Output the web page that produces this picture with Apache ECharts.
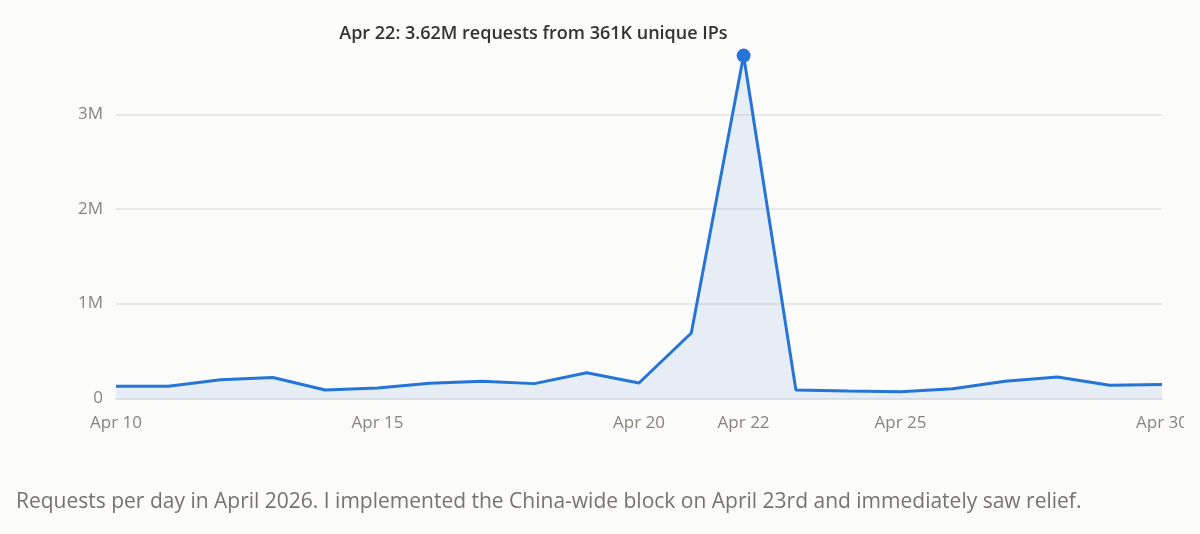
<!DOCTYPE html>
<html>
<head>
<meta charset="utf-8">
<script src="https://cdn.jsdelivr.net/npm/echarts@6/dist/echarts.min.js"></script>
<style>
  html, body { margin: 0; padding: 0; background: #fbfbf9; overflow: hidden; }
  #chart { width: 1184px; height: 534px; }
</style>
</head>
<body>
<div id="chart"></div>
<script>
const categories = ["Apr 10","Apr 11","Apr 12","Apr 13","Apr 14","Apr 15","Apr 16","Apr 17","Apr 18","Apr 19","Apr 20","Apr 21","Apr 22","Apr 23","Apr 24","Apr 25","Apr 26","Apr 27","Apr 28","Apr 29","Apr 30"];
const requests = [127000,127000,197000,220000,88000,109000,158000,180000,155000,270000,162000,690000,3620000,88000,77000,70000,100000,180000,225000,137000,145000];
const shownTicks = ["Apr 10","Apr 15","Apr 20","Apr 22","Apr 25","Apr 30"];
const yTickLabels = {0: "0", 1000000: "1M", 2000000: "2M", 3000000: "3M"};
const peakIndex = 12;
const peakText = "Apr 22: 3.62M requests from 361K unique IPs";
const caption = "Requests per day in April 2026. I implemented the China-wide block on April 23rd and immediately saw relief.";

const seriesData = requests.map((v, i) => {
  if (i !== peakIndex) return v;
  return {
    value: v,
    symbol: 'circle',
    symbolSize: 14,
    itemStyle: { color: '#2574d7' },
    label: {
      show: true,
      formatter: peakText,
      position: 'top',
      align: 'right',
      offset: [-16, -1],
      fontFamily: 'Open Sans',
      fontSize: 18,
      fontWeight: 600,
      color: '#333333'
    }
  };
});

const chart = echarts.init(document.getElementById('chart'), null, { renderer: 'canvas' });
chart.setOption({
  backgroundColor: '#fbfbf9',
  animation: false,
  title: {
    text: caption,
    left: 16,
    top: 492,
    padding: 0,
    textStyle: { fontFamily: 'Open Sans', fontSize: 21, fontWeight: 'normal', color: '#78726c' }
  },
  grid: { left: 116, right: 22, top: 19.6, bottom: 135.7, containLabel: false, outerBoundsMode: 'none' },
  xAxis: {
    type: 'category',
    data: categories,
    boundaryGap: false,
    axisLine: { show: true, lineStyle: { color: '#d4d9df', width: 1.5 } },
    axisTick: { show: false },
    axisLabel: {
      interval: (idx, val) => shownTicks.includes(val),
      margin: 16,
      fontFamily: 'Open Sans',
      fontSize: 17,
      color: '#8a837c'
    },
    splitLine: { show: false }
  },
  yAxis: {
    type: 'value',
    min: 0,
    max: 4000000,
    interval: 1000000,
    axisLine: { show: false },
    axisTick: { show: false },
    axisLabel: {
      margin: 13,
      padding: [4, 0, 0, 0],
      showMaxLabel: false,
      formatter: v => yTickLabels[v] !== undefined ? yTickLabels[v] : '',
      fontFamily: 'Open Sans',
      fontSize: 17,
      color: '#8a837c'
    },
    splitLine: { show: true, showMinLine: false, showMaxLine: false, lineStyle: { color: '#e3e3e1', width: 1.5 } }
  },
  series: [{
    type: 'line',
    data: seriesData,
    symbol: 'none',
    showSymbol: true,
    lineStyle: { color: '#2574d7', width: 3 },
    itemStyle: { color: '#2574d7' },
    areaStyle: { color: 'rgba(37,116,215,0.14)' },
    z: 3
  }]
});
</script>
</body>
</html>
